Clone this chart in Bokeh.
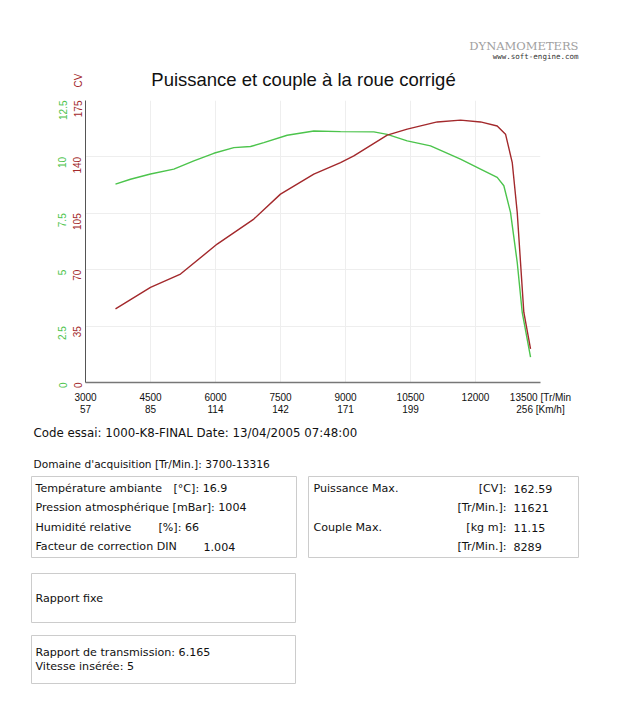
import math
from bokeh.plotting import figure
from bokeh.models import Range1d, LinearAxis, FixedTicker
from bokeh.layouts import column
from bokeh.embed import file_html
from bokeh.resources import INLINE
from bokeh.core.properties import value

# ---------------- data ----------------
rpm_power = [3692, 4500, 5192, 6039, 6884, 7500, 8269, 8885, 9192, 9963, 10424,
             11117, 11654, 12116, 12501, 12693, 12848, 12963, 13039, 13115, 13270]
power_cv = [45.7, 59.0, 67.3, 85.9, 101.4, 116.9, 129.3, 136.5, 140.6, 153.5, 157.2,
            161.7, 162.8, 161.7, 159.2, 154.1, 136.5, 105.5, 74.5, 43.6, 20.9]

rpm_torque = [3692, 4038, 4500, 5038, 5500, 5961, 6423, 6808, 7115, 7654, 8269, 8885,
              9654, 9962, 10424, 10962, 11654, 12116, 12501, 12654, 12808, 12963, 13078, 13270]
torque_kgm = [8.79, 9.01, 9.24, 9.46, 9.82, 10.16, 10.41, 10.46, 10.63, 10.96, 11.15, 11.12,
              11.11, 11.0, 10.71, 10.49, 9.9, 9.46, 9.09, 8.72, 7.54, 5.32, 3.11, 1.12]

rpm_ticks = [3000, 4500, 6000, 7500, 9000, 10500, 12000, 13500]
rpm_tick_labels = ["3000", "4500", "6000", "7500", "9000", "10500", "12000", "13500 [Tr/Min"]
kmh_tick_labels = ["57", "85", "114", "142", "171", "199", "", "256 [Km/h]"]
power_ticks = [0, 35, 70, 105, 140, 175]
torque_ticks = [0, 2.5, 5, 7.5, 10, 12.5]
torque_tick_labels = ["0", "2.5", "5", "7.5", "10", "12.5"]

RED = "#a3292c"
GREEN = "#4cc44c"
FONT = "Liberation Sans"
INFO_FONT = "DejaVu Sans"
W = 601

def panel(height):
    f = figure(width=W, height=height, x_range=Range1d(0, W), y_range=Range1d(height, 0),
               output_backend="svg", toolbar_location=None,
               x_axis_location=None, y_axis_location=None, min_border=0)
    f.grid.visible = False
    f.outline_line_color = None
    f.frame_align = False
    return f

# ---------------- header panel (page y 0..91) ----------------
TOP_H = 91
top = panel(TOP_H)
top.text(x=[303], y=[78.5], text=["Puissance et couple à la roue corrigé"],
         text_font=value(FONT), text_font_size="18.5px", text_align="center",
         text_baseline="middle", text_color="#111111")
top.text(x=[578], y=[45.5], text=["DYNAMOMETERS"], text_font=value("DejaVu Serif"),
         text_font_size="11.5px", text_align="right", text_baseline="middle",
         text_color="#a0a0a0")
top.text(x=[578], y=[55.5], text=["www.soft-engine.com"], text_font=value("DejaVu Sans Mono"),
         text_font_size="7.5px", text_align="right", text_baseline="middle",
         text_color="#333333")
top.text(x=[78], y=[80], text=["CV"], angle=math.pi / 2, text_font=value(FONT),
         text_font_size="10px", text_align="center", text_baseline="middle", text_color=RED)

# ---------------- chart (page y 91..420) ----------------
p = figure(width=W, height=420 - TOP_H, x_range=Range1d(3000, 13500), y_range=Range1d(0, 175),
           output_backend="svg", toolbar_location=None,
           min_border_left=85, min_border_right=61, min_border_top=100 - TOP_H,
           min_border_bottom=38)
p.frame_align = False
p.extra_y_ranges = {"torque": Range1d(0, 12.5)}
p.outline_line_color = None

xa = p.xaxis[0]
xa.ticker = FixedTicker(ticks=rpm_ticks)
xa.major_label_overrides = {t: (a + "\n" + b if b else a)
                            for t, a, b in zip(rpm_ticks, rpm_tick_labels, kmh_tick_labels)}
xa.major_tick_line_color = None
xa.minor_tick_line_color = None
xa.axis_line_color = "#777777"
xa.axis_line_width = 1.5
xa.major_label_standoff = 3
xa.major_label_text_font = FONT
xa.major_label_text_font_size = "10px"
xa.major_label_text_line_height = 1.1
xa.major_label_text_color = "#111111"

ya = p.yaxis[0]
ya.ticker = FixedTicker(ticks=power_ticks)
ya.major_label_orientation = math.pi / 2
ya.major_tick_line_color = None
ya.minor_tick_line_color = None
ya.axis_line_color = "#555555"
ya.major_label_standoff = 2
ya.major_label_text_font = FONT
ya.major_label_text_font_size = "10px"
ya.major_label_text_color = RED

ga = LinearAxis(y_range_name="torque", ticker=FixedTicker(ticks=torque_ticks),
                major_label_overrides={t: s for t, s in zip(torque_ticks, torque_tick_labels)})
ga.major_label_orientation = math.pi / 2
ga.major_tick_line_color = None
ga.minor_tick_line_color = None
ga.axis_line_color = None
ga.major_label_standoff = -2
ga.major_label_text_font = FONT
ga.major_label_text_font_size = "10px"
ga.major_label_text_color = GREEN
p.add_layout(ga, "left")

p.xgrid.grid_line_color = "#eeeeee"
p.ygrid.grid_line_color = "#eeeeee"

p.line(rpm_torque, torque_kgm, y_range_name="torque", line_color=GREEN, line_width=1.4)
p.line(rpm_power, power_cv, line_color=RED, line_width=1.4)

# ---------------- info panel (page y 420..704) ----------------
q = panel(284)
OY = 420
def by(py):
    return py - OY

q.quad(left=[31, 308, 31, 31], right=[296, 578, 295, 295],
       top=[by(476), by(476), by(573), by(635)], bottom=[by(557), by(557), by(622), by(683)],
       fill_color=None, line_color="#cccccc", line_width=1)

def texts(xs, ys, ts, size="11.1px", align="left", color="#111111"):
    q.text(x=xs, y=[by(v) for v in ys], text=ts,
           text_font=value(INFO_FONT), text_font_size=size, text_align=align,
           text_baseline="middle", text_color=color)

texts([33], [432], ["Code essai: 1000-K8-FINAL  Date: 13/04/2005 07:48:00"], size="11.8px")
texts([33], [463], ["Domaine d'acquisition [Tr/Min.]: 3700-13316"], size="10.6px")

texts([35, 35, 35, 35], [488, 507, 527, 546],
      ["Température ambiante", "Pression atmosphérique [mBar]: 1004",
       "Humidité relative", "Facteur de correction DIN"])
texts([173, 158, 203], [488, 527, 546], ["[°C]: 16.9", "[%]: 66", "1.004"])

texts([313, 313], [488, 527], ["Puissance Max.", "Couple Max."])
texts([506, 506, 506, 506], [488, 507, 527, 546],
      ["[CV]:", "[Tr/Min.]:", "[kg m]:", "[Tr/Min.]:"], align="right")
texts([513, 513, 513, 513], [488, 507, 527, 546], ["162.59", "11621", "11.15", "8289"])

texts([35], [598], ["Rapport fixe"])
texts([35, 35], [652, 666], ["Rapport de transmission: 6.165", "Vitesse insérée: 5"])

open("out.html", "w").write(file_html(column(top, p, q), INLINE))
